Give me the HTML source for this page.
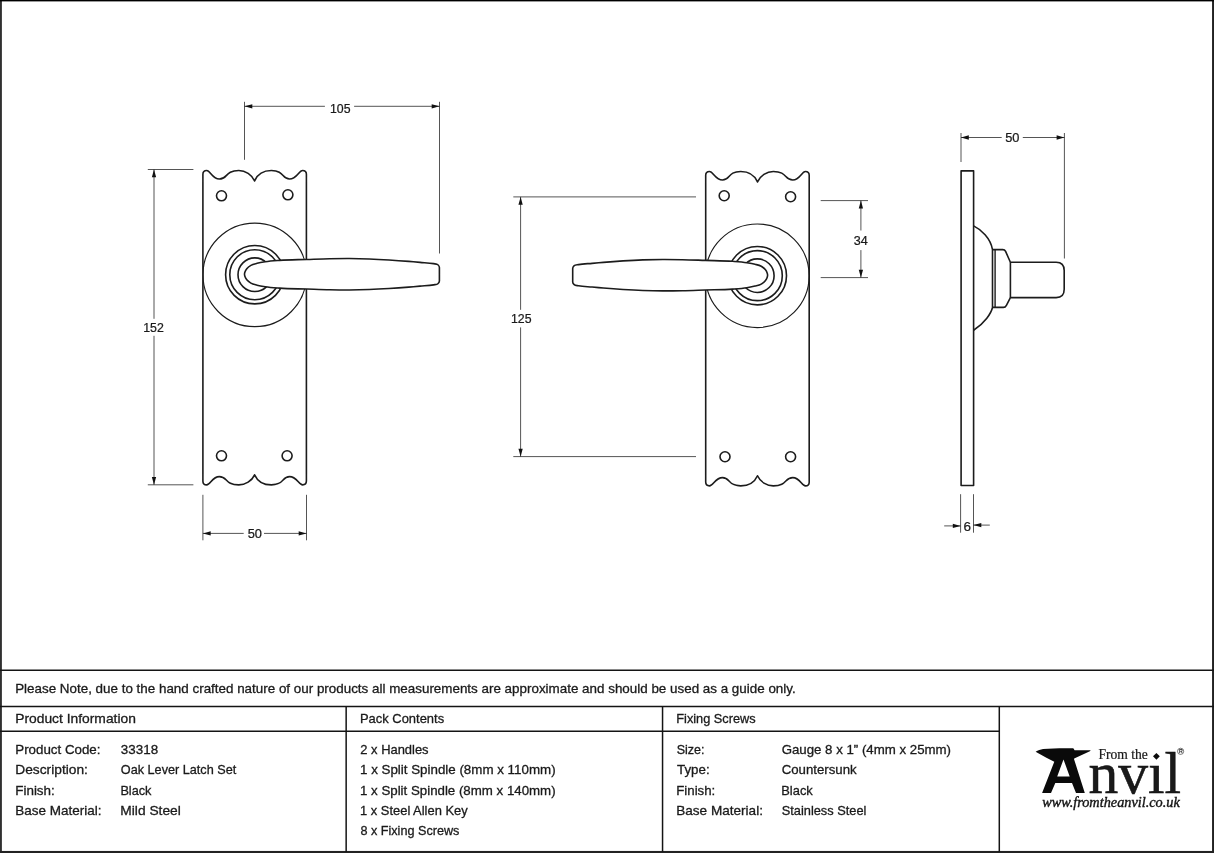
<!DOCTYPE html>
<html><head><meta charset="utf-8"><title>Oak Lever Latch Set</title>
<style>
html,body{margin:0;padding:0;background:#fff;}
body{width:1214px;height:853px;overflow:hidden;font-family:"Liberation Sans",sans-serif;}
svg{display:block;will-change:transform;}
text{font-family:"Liberation Sans",sans-serif;fill:#1a1a1a;}
.serif{font-family:"Liberation Serif",serif;}
</style></head><body>
<svg width="1214" height="853" viewBox="0 0 1214 853">
<defs>
<clipPath id="plateclip"><path d="M202.9,174.35000000000002 C202.90,171.65 204.60,170.55 206.71,170.55 C210.31,170.55 212.32,179.05 219.33,179.05 C227.85,179.05 224.74,170.55 238.77,170.55 C245.38,170.55 251.89,174.65 254.60,180.95 C257.31,174.65 263.62,170.55 271.38,170.55 C284.51,170.55 281.60,179.05 289.57,179.05 C296.78,179.05 298.89,170.55 302.59,170.55 C304.70,170.55 306.40,171.65 306.40,174.35 L306.40,481.10 C306.40,483.83 304.70,484.90 302.59,484.90 C298.89,484.90 296.78,476.65 289.57,476.65 C281.60,476.65 284.51,484.90 271.38,484.90 C263.62,484.90 257.31,480.92 254.60,474.81 C251.89,480.92 245.38,484.90 238.77,484.90 C224.74,484.90 227.85,476.65 219.33,476.65 C212.32,476.65 210.31,484.90 206.71,484.90 C204.60,484.90 202.90,483.83 202.90,481.21 Z"/></clipPath>
<g id="front">
  <path d="M202.9,174.35000000000002 C202.90,171.65 204.60,170.55 206.71,170.55 C210.31,170.55 212.32,179.05 219.33,179.05 C227.85,179.05 224.74,170.55 238.77,170.55 C245.38,170.55 251.89,174.65 254.60,180.95 C257.31,174.65 263.62,170.55 271.38,170.55 C284.51,170.55 281.60,179.05 289.57,179.05 C296.78,179.05 298.89,170.55 302.59,170.55 C304.70,170.55 306.40,171.65 306.40,174.35 L306.40,481.10 C306.40,483.83 304.70,484.90 302.59,484.90 C298.89,484.90 296.78,476.65 289.57,476.65 C281.60,476.65 284.51,484.90 271.38,484.90 C263.62,484.90 257.31,480.92 254.60,474.81 C251.89,480.92 245.38,484.90 238.77,484.90 C224.74,484.90 227.85,476.65 219.33,476.65 C212.32,476.65 210.31,484.90 206.71,484.90 C204.60,484.90 202.90,483.83 202.90,481.21 Z" fill="#fff" stroke="#1c1c1c" stroke-width="1.6" stroke-linejoin="round"/>
  <g fill="none" stroke="#1c1c1c" stroke-width="1.6">
    <circle cx="221.5" cy="195.8" r="5"/><circle cx="287.9" cy="194.8" r="5"/>
    <circle cx="221.5" cy="455.8" r="5"/><circle cx="287.1" cy="455.8" r="5"/>
  </g>
  <ellipse cx="254.75" cy="274.85" rx="51.8" ry="51.8" fill="none" stroke="#1c1c1c" stroke-width="1.15" clip-path="url(#plateclip)"/>
  <g fill="none" stroke="#1c1c1c" stroke-width="1.6">
    <circle cx="254.8" cy="274.7" r="29.2"/><circle cx="254.8" cy="274.7" r="25"/><circle cx="254.8" cy="274.7" r="16.8"/>
  </g>
  <path d="M244.5,274.25 C244.50,273.50 244.72,272.76 244.95,272.05 C245.34,270.82 246.00,269.67 246.80,268.65 C247.88,267.27 249.37,266.21 250.90,265.35 C252.79,264.28 255.00,263.91 257.10,263.35 C259.79,262.63 262.55,262.19 265.30,261.75 C270.03,261.00 274.82,260.71 279.60,260.35 C288.68,259.66 297.80,259.74 306.90,259.45 C314.50,259.21 322.10,258.90 329.70,258.75 C336.27,258.62 342.83,258.52 349.40,258.55 C356.00,258.58 362.60,258.72 369.20,258.95 C375.80,259.18 382.40,259.54 389.00,259.95 C395.57,260.36 402.14,260.85 408.70,261.40 C412.47,261.71 416.23,262.06 420.00,262.40 C424.53,262.81 429.15,262.69 433.60,263.65 C435.05,263.96 436.80,263.76 437.90,264.75 C438.66,265.44 439.40,266.42 439.40,267.45 L439.4,281.05 C439.40,282.08 438.66,283.06 437.90,283.75 C436.80,284.74 435.05,284.54 433.60,284.85 C429.15,285.81 424.53,285.69 420.00,286.10 C416.23,286.44 412.47,286.79 408.70,287.10 C402.14,287.65 395.57,288.14 389.00,288.55 C382.40,288.96 375.80,289.32 369.20,289.55 C362.60,289.78 356.00,289.92 349.40,289.95 C342.83,289.98 336.27,289.88 329.70,289.75 C322.10,289.60 314.50,289.29 306.90,289.05 C297.80,288.76 288.68,288.84 279.60,288.15 C274.82,287.79 270.03,287.50 265.30,286.75 C262.55,286.31 259.79,285.87 257.10,285.15 C255.00,284.59 252.79,284.22 250.90,283.15 C249.37,282.29 247.88,281.23 246.80,279.85 C246.00,278.83 245.34,277.68 244.95,276.45 C244.72,275.74 244.50,275.00 244.50,274.25 Z" fill="#fff" stroke="#1c1c1c" stroke-width="1.6" stroke-linejoin="round"/>
</g>
</defs>
<rect x="0" y="0" width="1214" height="853" fill="#fff"/>

<!-- front views -->
<use href="#front"/>
<use href="#front" transform="translate(1012.1,0.95) scale(-1,1)"/>

<!-- side view -->
<g fill="none" stroke="#1c1c1c" stroke-width="1.6" stroke-linejoin="round">
  <rect x="961.1" y="170.85" width="12.5" height="314.65" fill="#fff"/>
  <path d="M973.6,225.9 C981,229.5 990.5,238 992.5,249.6 L992.5,307.5 C991.2,313 985,323 973.6,330.2"/>
  <path d="M992.5,249.6 L1002.8,249.6 C1004.3,249.6 1005,250.2 1005.6,251.4 L1010.4,262.3 L1056.2,262.3 C1061.2,262.3 1064.2,265.3 1064.2,270.6 L1064.2,289.3 C1064.2,294.6 1061.2,297.6 1056.2,297.6 L1010.4,297.6 L1006.4,305.3 C1005.7,306.7 1005,307.4 1003.4,307.4 L992.5,307.4"/>
  <path d="M1010.4,262.3 L1010.4,297.6"/>
  <path d="M995.1,249.6 L995.1,307.4" stroke-width="1.4"/>
</g>

<!-- dimensions -->
<g stroke="#2a2a2a" stroke-width="0.8" fill="none"><line x1="244.5" y1="101.8" x2="244.5" y2="159.8"/><line x1="439.5" y1="101.8" x2="439.5" y2="253.5"/><line x1="244.5" y1="106.3" x2="324.9" y2="106.3"/><line x1="354.1" y1="106.3" x2="439.5" y2="106.3"/><line x1="147.8" y1="169.5" x2="193.4" y2="169.5"/><line x1="147.8" y1="484.8" x2="193.4" y2="484.8"/><line x1="154.0" y1="169.5" x2="154.0" y2="318.8"/><line x1="154.0" y1="335.8" x2="154.0" y2="484.8"/><line x1="202.9" y1="494.8" x2="202.9" y2="540.3"/><line x1="306.5" y1="494.8" x2="306.5" y2="540.3"/><line x1="202.9" y1="533.4" x2="243.7" y2="533.4"/><line x1="264.0" y1="533.4" x2="306.5" y2="533.4"/><line x1="513.3" y1="196.9" x2="696.0" y2="196.9"/><line x1="513.3" y1="456.6" x2="696.0" y2="456.6"/><line x1="520.6" y1="196.9" x2="520.6" y2="309.8"/><line x1="520.6" y1="327.4" x2="520.6" y2="456.6"/><line x1="820.7" y1="200.6" x2="868" y2="200.6"/><line x1="820.7" y1="277.6" x2="868" y2="277.6"/><line x1="860.9" y1="200.6" x2="860.9" y2="230.5"/><line x1="860.9" y1="250.1" x2="860.9" y2="277.6"/><line x1="961.0" y1="133.0" x2="961.0" y2="162.0"/><line x1="1064.4" y1="133.0" x2="1064.4" y2="258.5"/><line x1="961.0" y1="137.5" x2="1001.7" y2="137.5"/><line x1="1022.8" y1="137.5" x2="1064.4" y2="137.5"/><line x1="960.6" y1="494.2" x2="960.6" y2="532.7"/><line x1="973.5" y1="494.2" x2="973.5" y2="532.7"/><line x1="944.2" y1="525.9" x2="960.6" y2="525.9"/><line x1="973.5" y1="525.1" x2="989.8" y2="525.1"/></g>
<g fill="#111" stroke="none"><path d="M244.5,106.3 L252.3,104.14999999999999 L252.3,108.45 Z"/><path d="M439.5,106.3 L431.7,104.14999999999999 L431.7,108.45 Z"/><path d="M154.0,169.5 L151.85,177.3 L156.15,177.3 Z"/><path d="M154.0,484.8 L151.85,477.0 L156.15,477.0 Z"/><path d="M202.9,533.4 L210.70000000000002,531.25 L210.70000000000002,535.55 Z"/><path d="M306.5,533.4 L298.7,531.25 L298.7,535.55 Z"/><path d="M520.6,196.9 L518.45,204.70000000000002 L522.75,204.70000000000002 Z"/><path d="M520.6,456.6 L518.45,448.8 L522.75,448.8 Z"/><path d="M860.9,200.6 L858.75,208.4 L863.05,208.4 Z"/><path d="M860.9,277.6 L858.75,269.8 L863.05,269.8 Z"/><path d="M961.0,137.5 L968.8,135.35 L968.8,139.65 Z"/><path d="M1064.4,137.5 L1056.6000000000001,135.35 L1056.6000000000001,139.65 Z"/><path d="M960.6,525.9 L952.8000000000001,523.75 L952.8000000000001,528.05 Z"/><path d="M973.5,525.1 L981.3,522.95 L981.3,527.25 Z"/></g>
<g stroke="#1a1a1a" stroke-width="0.25"><text transform="translate(329.98,112.5) scale(0.9479,1)" style="font-family:'Liberation Sans', sans-serif" font-size="13" font-style="normal" font-weight="normal" >105</text><text transform="translate(143.27,331.5) scale(0.9491,1)" style="font-family:'Liberation Sans', sans-serif" font-size="13" font-style="normal" font-weight="normal" >152</text><text transform="translate(247.69,537.6) scale(0.9858,1)" style="font-family:'Liberation Sans', sans-serif" font-size="13" font-style="normal" font-weight="normal" >50</text><text transform="translate(510.98,323.0) scale(0.9479,1)" style="font-family:'Liberation Sans', sans-serif" font-size="13" font-style="normal" font-weight="normal" >125</text><text transform="translate(853.80,244.5) scale(0.9689,1)" style="font-family:'Liberation Sans', sans-serif" font-size="13" font-style="normal" font-weight="normal" >34</text><text transform="translate(1005.19,142.4) scale(0.9858,1)" style="font-family:'Liberation Sans', sans-serif" font-size="13" font-style="normal" font-weight="normal" >50</text><text transform="translate(963.53,531.4) scale(1.0368,1)" style="font-family:'Liberation Sans', sans-serif" font-size="13" font-style="normal" font-weight="normal" >6</text></g>

<!-- frame and table -->
<g fill="#222">
  <rect x="0" y="0" width="1.9" height="853" fill="#303030"/>
  <rect x="1212.05" y="0" width="1.95" height="853"/>
  <rect x="0" y="850.95" width="1214" height="2.05"/>
  <rect x="0" y="0" width="1214" height="1.4" fill="#000"/>
</g>
<g stroke="#141414" stroke-width="1.5" fill="none">
  <line x1="0" y1="670.15" x2="1214" y2="670.15"/>
  <line x1="0" y1="706.55" x2="1214" y2="706.55"/>
  <line x1="0" y1="731.35" x2="999.3" y2="731.35"/>
  <line x1="346.15" y1="706.55" x2="346.15" y2="852"/>
  <line x1="662.55" y1="706.55" x2="662.55" y2="852"/>
  <line x1="999.3" y1="706.55" x2="999.3" y2="852"/>
</g>
<g stroke="#1a1a1a" stroke-width="0.3"><text transform="translate(15.13,693.0) scale(1.0161,1)" style="font-family:'Liberation Sans', sans-serif" font-size="13.2" font-style="normal" font-weight="normal" >Please Note, due to the hand crafted nature of our products all measurements are approximate and should be used as a guide only.</text><text transform="translate(15.19,722.6) scale(1.0481,1)" style="font-family:'Liberation Sans', sans-serif" font-size="13.2" font-style="normal" font-weight="normal" >Product Information</text><text transform="translate(15.23,753.8) scale(1.0109,1)" style="font-family:'Liberation Sans', sans-serif" font-size="13.2" font-style="normal" font-weight="normal" >Product Code:</text><text transform="translate(120.86,753.8) scale(1.0157,1)" style="font-family:'Liberation Sans', sans-serif" font-size="13.2" font-style="normal" font-weight="normal" >33318</text><text transform="translate(15.20,774.2) scale(1.0447,1)" style="font-family:'Liberation Sans', sans-serif" font-size="13.2" font-style="normal" font-weight="normal" >Description:</text><text transform="translate(120.83,774.2) scale(0.9602,1)" style="font-family:'Liberation Sans', sans-serif" font-size="13.2" font-style="normal" font-weight="normal" >Oak Lever Latch Set</text><text transform="translate(15.22,794.5) scale(1.0183,1)" style="font-family:'Liberation Sans', sans-serif" font-size="13.2" font-style="normal" font-weight="normal" >Finish:</text><text transform="translate(120.38,794.5) scale(0.9642,1)" style="font-family:'Liberation Sans', sans-serif" font-size="13.2" font-style="normal" font-weight="normal" >Black</text><text transform="translate(15.22,814.7) scale(1.0231,1)" style="font-family:'Liberation Sans', sans-serif" font-size="13.2" font-style="normal" font-weight="normal" >Base Material:</text><text transform="translate(120.30,814.7) scale(1.0440,1)" style="font-family:'Liberation Sans', sans-serif" font-size="13.2" font-style="normal" font-weight="normal" >Mild Steel</text><text transform="translate(359.96,722.6) scale(0.9816,1)" style="font-family:'Liberation Sans', sans-serif" font-size="13.2" font-style="normal" font-weight="normal" >Pack Contents</text><text transform="translate(360.35,753.8) scale(0.9800,1)" style="font-family:'Liberation Sans', sans-serif" font-size="13.2" font-style="normal" font-weight="normal" >2 x Handles</text><text transform="translate(360.00,774.2) scale(1.0125,1)" style="font-family:'Liberation Sans', sans-serif" font-size="13.2" font-style="normal" font-weight="normal" >1 x Split Spindle (8mm x 110mm)</text><text transform="translate(360.00,794.5) scale(1.0073,1)" style="font-family:'Liberation Sans', sans-serif" font-size="13.2" font-style="normal" font-weight="normal" >1 x Split Spindle (8mm x 140mm)</text><text transform="translate(360.03,814.7) scale(0.9786,1)" style="font-family:'Liberation Sans', sans-serif" font-size="13.2" font-style="normal" font-weight="normal" >1 x Steel Allen Key</text><text transform="translate(360.43,835.1) scale(0.9583,1)" style="font-family:'Liberation Sans', sans-serif" font-size="13.2" font-style="normal" font-weight="normal" >8 x Fixing Screws</text><text transform="translate(676.28,722.6) scale(0.9671,1)" style="font-family:'Liberation Sans', sans-serif" font-size="13.2" font-style="normal" font-weight="normal" >Fixing Screws</text><text transform="translate(676.74,753.8) scale(0.9483,1)" style="font-family:'Liberation Sans', sans-serif" font-size="13.2" font-style="normal" font-weight="normal" >Size:</text><text transform="translate(781.64,753.8) scale(1.0051,1)" style="font-family:'Liberation Sans', sans-serif" font-size="13.2" font-style="normal" font-weight="normal" >Gauge 8 x 1” (4mm x 25mm)</text><text transform="translate(677.03,774.2) scale(1.0090,1)" style="font-family:'Liberation Sans', sans-serif" font-size="13.2" font-style="normal" font-weight="normal" >Type:</text><text transform="translate(781.64,774.2) scale(1.0029,1)" style="font-family:'Liberation Sans', sans-serif" font-size="13.2" font-style="normal" font-weight="normal" >Countersunk</text><text transform="translate(676.24,794.5) scale(1.0046,1)" style="font-family:'Liberation Sans', sans-serif" font-size="13.2" font-style="normal" font-weight="normal" >Finish:</text><text transform="translate(781.27,794.5) scale(0.9770,1)" style="font-family:'Liberation Sans', sans-serif" font-size="13.2" font-style="normal" font-weight="normal" >Black</text><text transform="translate(676.21,814.7) scale(1.0292,1)" style="font-family:'Liberation Sans', sans-serif" font-size="13.2" font-style="normal" font-weight="normal" >Base Material:</text><text transform="translate(781.72,814.7) scale(0.9701,1)" style="font-family:'Liberation Sans', sans-serif" font-size="13.2" font-style="normal" font-weight="normal" >Stainless Steel</text></g>

<!-- logo -->
<g fill="#0a0a0a">
  <path d="M1035.6,751.7 C1038,750.2 1040.5,749.4 1043.1,749 C1052,748.2 1063,748.2 1073.3,748.3 L1074.6,750.2 L1090.4,750.3 L1090.4,751 L1075.3,758.1 L1073.9,758.7 L1084.8,792.9 L1076,792.9 L1072,783 L1055.3,783 L1051,792.9 L1042.1,792.9 L1054.3,761.7 L1046.4,757.8 Z M1063.5,759.4 L1057.2,776.5 L1069.7,776.5 Z" fill-rule="evenodd"/>
  <path d="M1156.4,752.9 L1159.8,756.3 L1156.4,759.7 L1153,756.3 Z"/>
</g>
<g fill="#0a0a0a"><text transform="translate(1088.41,792.7) scale(1.0017,1)" style="font-family:'Liberation Serif', serif" font-size="59.5" font-style="normal" font-weight="normal" fill="#0a0a0a" stroke="#0a0a0a" stroke-width="0.5">nvıl</text><text transform="translate(1098.39,759.3) scale(0.9903,1)" style="font-family:'Liberation Serif', serif" font-size="13.7" font-style="normal" font-weight="normal" fill="#0a0a0a" stroke="#0a0a0a" stroke-width="0.2">From the</text><text transform="translate(1042.14,807.1) scale(1.0514,1)" style="font-family:'Liberation Serif', serif" font-size="13.6" font-style="italic" font-weight="normal" fill="#0a0a0a" stroke="#0a0a0a" stroke-width="0.35">www.fromtheanvil.co.uk</text>
  <circle cx="1180.6" cy="751.3" r="3.1" fill="none" stroke="#222" stroke-width="0.6"/><text x="1178.9" y="753.2" font-size="5.2" font-weight="bold" fill="#222">R</text>
</g>
</svg>
</body></html>
